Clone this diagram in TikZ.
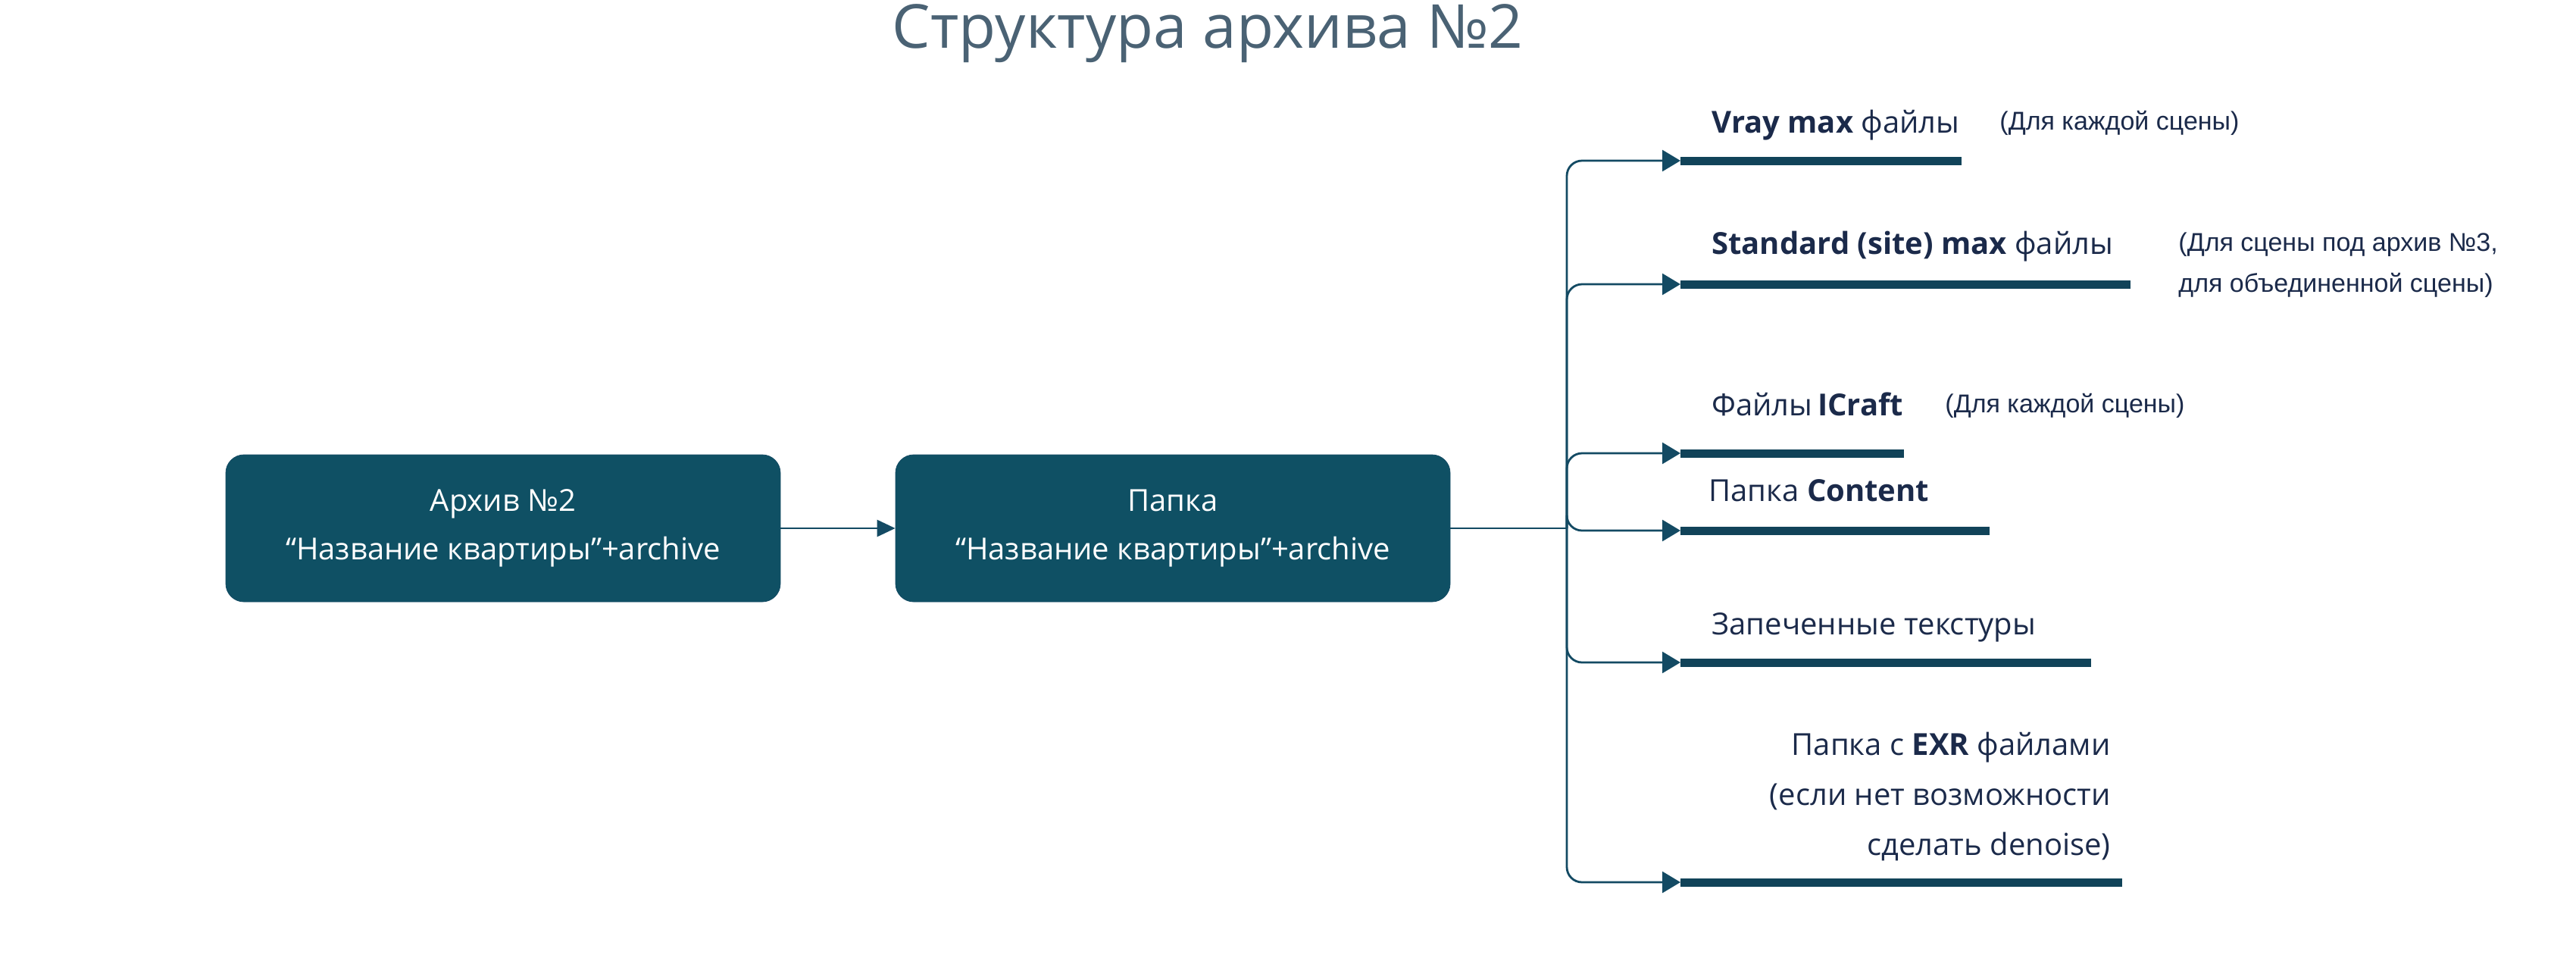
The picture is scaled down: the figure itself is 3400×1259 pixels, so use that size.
\documentclass[tikz,border=0pt]{standalone}
\usepackage{fontspec}
\setmainfont{Open Sans}
\newfontfamily\notefont{Liberation Sans}
\usetikzlibrary{arrows.meta,positioning}
\definecolor{boxfill}{HTML}{0F5064}
\definecolor{linecol}{HTML}{134A63}
\definecolor{txtcol}{HTML}{1B2A4A}
\definecolor{titlecol}{HTML}{4A6274}
\tikzset{
  archbox/.style={draw=linecol, fill=boxfill, rounded corners=12pt, text=white,
    minimum width=366pt, minimum height=97pt, align=center,
    font=\fontsize{20}{32}\selectfont},
  link/.style={linecol, line width=1.4pt, rounded corners=10pt},
  bar/.style={linecol!90!black, line width=5.5pt},
  label/.style={anchor=base west, inner sep=0pt, text=txtcol, font=\fontsize{20}{32}\selectfont},
  note/.style={anchor=base west, inner sep=0pt, text=txtcol, font=\notefont\fontsize{17}{27}\selectfont, align=left}
}
\begin{document}
\begin{tikzpicture}[x=0.5pt,y=-0.5pt]
\useasboundingbox (0,0) rectangle (3400,1259);

\node[text=titlecol, font=\fontsize{40}{48}\selectfont] (title) at (1594,44) {Структура архива №2};

\node[archbox] (arch) at (664,697) {Архив №2\\“Название квартиры”+archive};
\node[archbox] (folder) at (1548,697) {Папка\\“Название квартиры”+archive};
\draw[link, -{Triangle[length=12pt,width=11pt]}] (arch) -- (folder);

\coordinate (fork) at (2068,697);
\draw[link] (folder.east) -- (fork);
\foreach \n/\y/\e in {1/212/2589, 2/375/2812, 3/598/2513, 4/700/2626, 5/874/2760, 6/1164/2801}
{
  \coordinate (t\n) at (2218,\y);
  \coordinate (e\n) at (\e,\y);
  \draw[link, -{Triangle[length=12pt,width=14pt]}] (fork) |- (t\n);
  \draw[bar] (t\n) -- (e\n);
}

\node[label] (l1) at (2259,175) {\textbf{Vray max} файлы};
\node[note] (n1) at (2639,171) {(Для каждой сцены)};
\node[label] (l2) at (2259,335) {\textbf{Standard (site) max} файлы};
\node[note] (n2) at (2875,385) {(Для сцены под архив №3,\\для объединенной сцены)};
\node[label] (l3) at (2259,548) {Файлы\,\textbf{ICraft}};
\node[note] (n3) at (2567,544) {(Для каждой сцены)};
\node[label] (l4) at (2255,661) {Папка \textbf{Content}};
\node[label] (l5) at (2259,837) {Запеченные текстуры};
\node[text=txtcol, anchor=north east, inner sep=0pt, align=right, font=\fontsize{20}{33}\selectfont] (l6) at (2786,966) {Папка с \textbf{EXR} файлами\\(если нет возможности\\сделать denoise)};
\end{tikzpicture}
\end{document}
